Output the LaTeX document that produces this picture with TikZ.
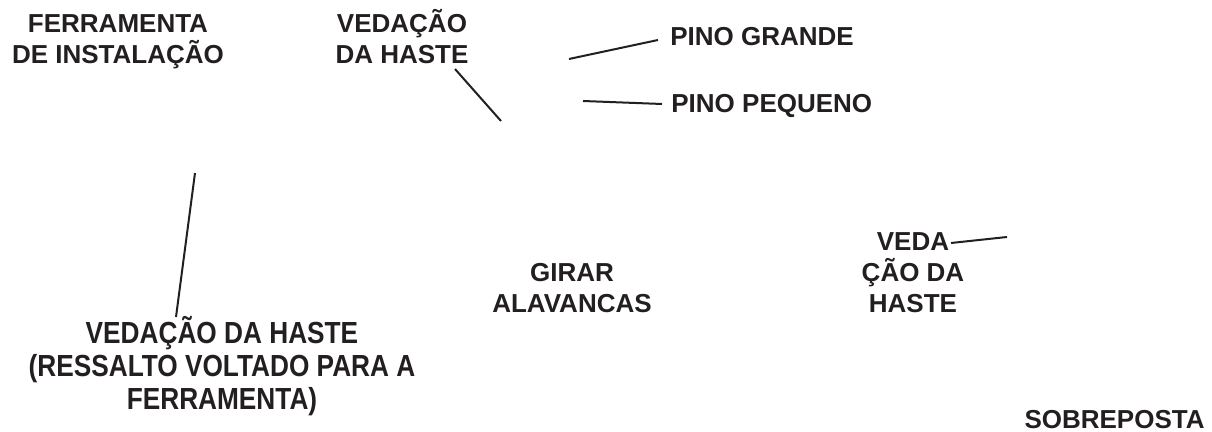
\documentclass[tikz,border=0pt]{standalone}
\usepackage{fontspec}
\setmainfont{Liberation Sans}
\newfontfamily\narrowfont{Liberation Sans}[FakeStretch=0.86]
\usepackage{tikz}
\usetikzlibrary{positioning}
\definecolor{cInk}{HTML}{231F20}
\tikzset{
  lbl/.style={font=\fontsize{13}{15.5}\selectfont\bfseries, text=cInk,
              align=center, inner sep=0pt, anchor=base},
  lbln/.style={lbl, font=\narrowfont\fontsize{15.25}{16.5}\selectfont\bfseries},
  lead/.style={line width=1pt, draw=cInk},
}
\begin{document}
\begin{tikzpicture}[x=0.5pt, y=-0.5pt]
  \useasboundingbox (0,0) rectangle (1212,432);

  % base anchor sits on the last line
  \node[lbl] (tool) at (118,64) {FERRAMENTA\\DE INSTALAÇÃO};
  \node[lbl] (sealtop) at (402,64) {VEDAÇÃO\\DA HASTE};
  \node[lbl, anchor=base west] (pinbig) at (670,46) {PINO GRANDE};
  \node[lbl, anchor=base west] (pinsmall) at (671,113) {PINO PEQUENO};
  \node[lbln] (sealleft) at (222,410) {VEDAÇÃO DA HASTE\\(RESSALTO VOLTADO PARA A\\FERRAMENTA)};
  \node[lbl] (levers) at (572,313) {GIRAR\\ALAVANCAS};
  \node[lbl] (sealright) at (913,313) {VEDA\\ÇÃO DA\\HASTE};
  \node[lbl, anchor=base east] (overlay) at (1205,429) {SOBREPOSTA};

  % leader ends
  \coordinate (st1) at (455,69);  \coordinate (st2) at (501,121);
  \coordinate (pb1) at (658,40);  \coordinate (pb2) at (569,59);
  \coordinate (ps1) at (662,104); \coordinate (ps2) at (583,101);
  \coordinate (sl1) at (176,317); \coordinate (sl2) at (195,173);
  \coordinate (sr1) at (951,243); \coordinate (sr2) at (1007,237);

  \draw[lead] (st1) -- (st2);
  \draw[lead] (pb1) -- (pb2);
  \draw[lead] (ps1) -- (ps2);
  \draw[lead] (sl1) -- (sl2);
  \draw[lead] (sr1) -- (sr2);
\end{tikzpicture}
\end{document}
